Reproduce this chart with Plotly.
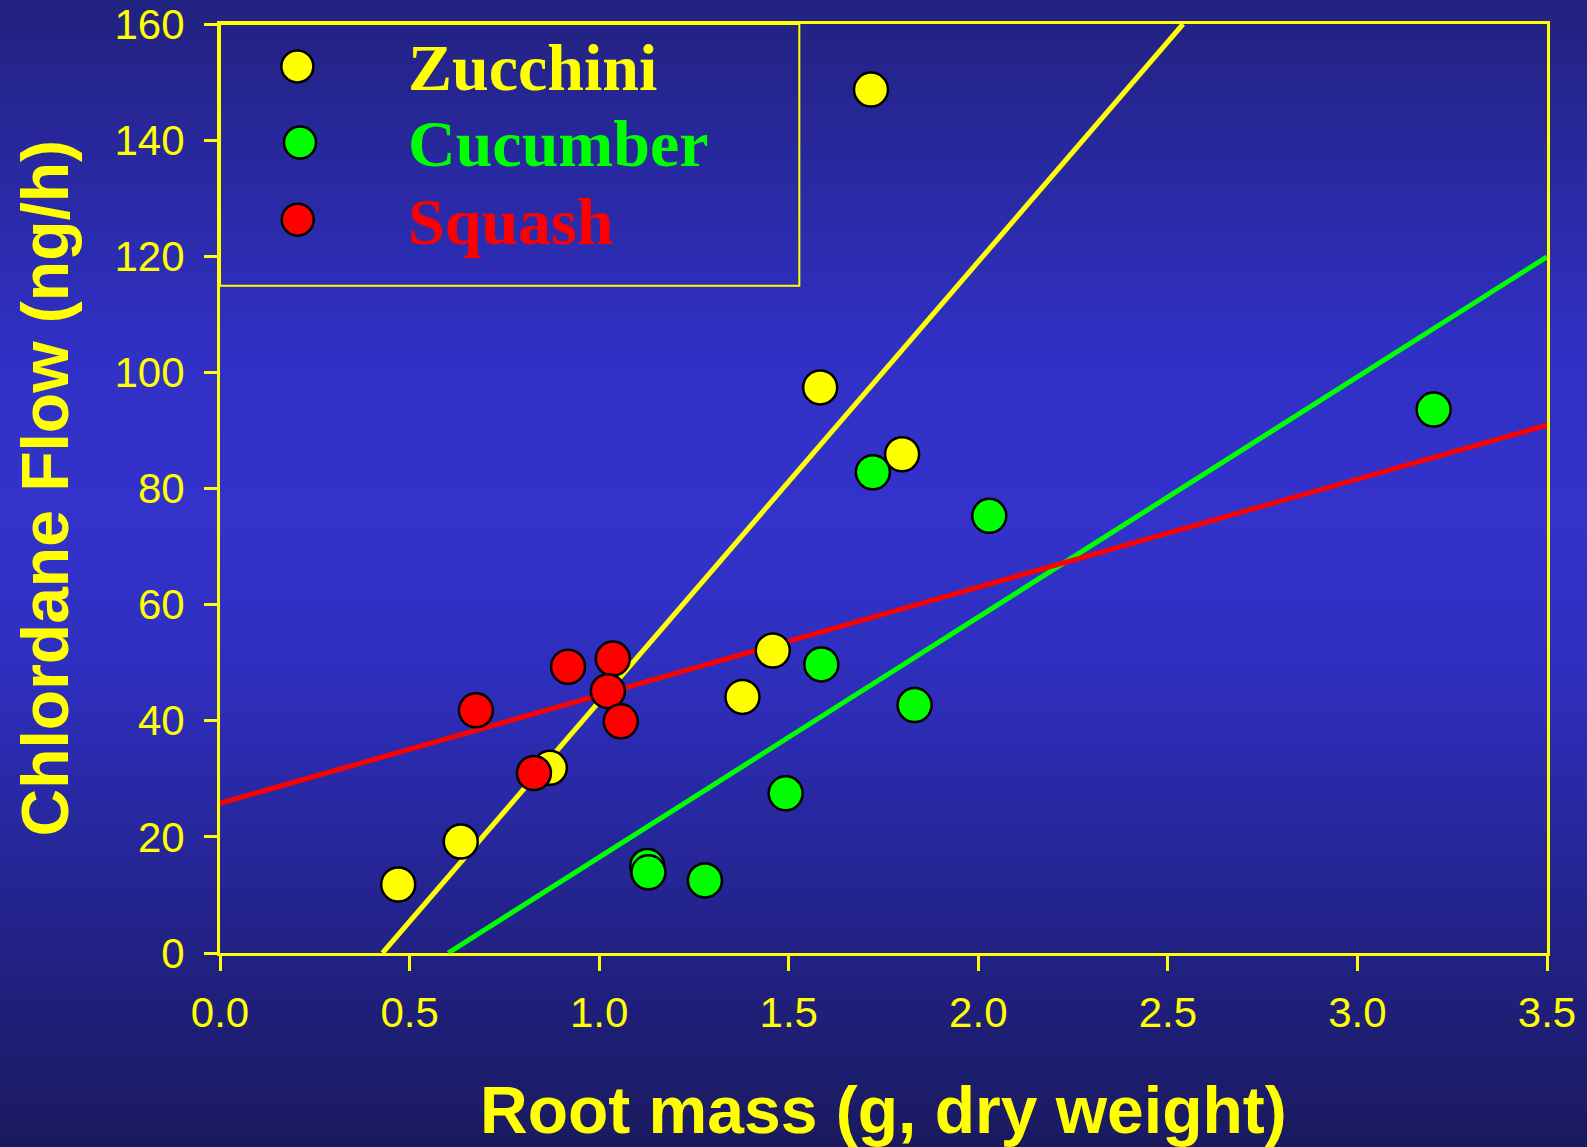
import base64
import struct
import zlib

import numpy as np
import plotly.graph_objects as go

# ---- data: root mass (g, dry weight) vs chlordane flow (ng/h) ----
zucchini_mass = [0.47, 0.635, 0.87, 1.378, 1.458, 1.583, 1.717, 1.799]
zucchini_flow = [11.8, 19.2, 31.9, 44.1, 52.1, 97.4, 148.7, 85.9]

cucumber_mass = [1.127, 1.130, 1.279, 1.492, 1.586, 1.722, 1.832, 2.029, 3.201]
cucumber_flow = [15.0, 13.9, 12.5, 27.5, 49.7, 82.8, 42.7, 75.3, 93.6]

squash_mass = [0.675, 0.828, 0.918, 1.036, 1.023, 1.057]
squash_flow = [41.8, 31.0, 49.3, 50.7, 45.1, 39.9]

series_names = ["Zucchini", "Cucumber", "Squash"]
series_colors = ["#FFFF00", "#00FF00", "#FF0000"]

x_ticks = [0.0, 0.5, 1.0, 1.5, 2.0, 2.5, 3.0, 3.5]
y_ticks = [0, 20, 40, 60, 80, 100, 120, 140, 160]
X_RANGE = [0, 3.5]
Y_RANGE = [0, 160]

# ---- layout geometry ----
W, H = 1587, 1147
M_L, M_R, M_T, M_B = 220, 40, 24, 194
AXIS_YELLOW = "#FFFF00"


def gradient_png(stops, rows=256):
    """Vertical colour gradient as a tiny PNG data URI."""
    pos = np.array([s[0] for s in stops])
    cols = np.array([s[1] for s in stops], dtype=float)
    raw = b""
    for i in range(rows):
        t = i / (rows - 1)
        rgb = [int(round(np.interp(t, pos, cols[:, k]))) for k in range(3)]
        raw += b"\x00" + bytes(rgb) * 4
    def chunk(tag, data):
        c = struct.pack(">I", len(data)) + tag + data
        return c + struct.pack(">I", zlib.crc32(tag + data) & 0xFFFFFFFF)
    png = b"\x89PNG\r\n\x1a\n"
    png += chunk(b"IHDR", struct.pack(">IIBBBBB", 4, rows, 8, 2, 0, 0, 0))
    png += chunk(b"IDAT", zlib.compress(raw, 9))
    png += chunk(b"IEND", b"")
    return "data:image/png;base64," + base64.b64encode(png).decode()


bg_stops = [
    (0.00, (34, 34, 128)),
    (0.30, (48, 48, 196)),
    (0.45, (51, 51, 204)),
    (0.60, (46, 46, 188)),
    (0.80, (35, 35, 140)),
    (1.00, (26, 26, 96)),
]

pw = W - M_L - M_R
ph = H - M_T - M_B

fig = go.Figure()

masses = [zucchini_mass, cucumber_mass, squash_mass]
flows = [zucchini_flow, cucumber_flow, squash_flow]

# least-squares fit lines, clipped to the plotting window
for xs, ys, col in zip(masses, flows, series_colors):
    slope, intercept = np.polyfit(xs, ys, 1)
    x_start = max(X_RANGE[0], (Y_RANGE[0] - intercept) / slope)
    x_end = min(X_RANGE[1], (Y_RANGE[1] - intercept) / slope)
    fx = np.array([x_start, x_end])
    fig.add_trace(go.Scatter(
        x=fx, y=slope * fx + intercept, mode="lines",
        line=dict(color=col, width=5), showlegend=False,
        hoverinfo="skip", cliponaxis=True,
    ))

# scatter points
for xs, ys, col, name in zip(masses, flows, series_colors, series_names):
    fig.add_trace(go.Scatter(
        x=xs, y=ys, mode="markers", name=name,
        marker=dict(size=34, color=col, line=dict(color="black", width=2.5)),
        showlegend=False, cliponaxis=False,
    ))

# hand-built key in the upper-left corner
key_marker_x = [0.204, 0.211, 0.205]
key_marker_y = [152.7, 139.6, 126.3]
for mx, my, col in zip(key_marker_x, key_marker_y, series_colors):
    fig.add_trace(go.Scatter(
        x=[mx], y=[my], mode="markers", showlegend=False, hoverinfo="skip",
        marker=dict(size=32, color=col, line=dict(color="black", width=2.5)),
    ))

annotations = []
key_text_y = [152.5, 139.5, 126.0]
for name, col, ty in zip(series_names, series_colors, key_text_y):
    annotations.append(dict(
        x=0.5, y=ty, xref="x", yref="y", text=f"<b>{name}</b>",
        showarrow=False, xanchor="left", yanchor="middle", xshift=-4,
        font=dict(family="Liberation Serif, Times New Roman, serif",
                  size=66, color=col),
    ))

# axis titles
annotations.append(dict(
    x=0.5, y=0, xref="paper", yref="paper",
    text="<b>Root mass (g, dry weight)</b>", showarrow=False,
    xanchor="center", yanchor="top", yshift=-118,
    font=dict(family="Liberation Sans, Arial, sans-serif", size=66,
              color=AXIS_YELLOW),
))
annotations.append(dict(
    x=0, y=0.5, xref="paper", yref="paper",
    text="<b>Chlordane Flow (ng/h)</b>", showarrow=False, textangle=-90,
    xanchor="center", yanchor="middle", xshift=-176,
    font=dict(family="Liberation Sans, Arial, sans-serif", size=66,
              color=AXIS_YELLOW),
))

shapes = [dict(
    type="rect", xref="x", yref="y", x0=0, x1=1.528, y0=114.9, y1=160,
    line=dict(color=AXIS_YELLOW, width=2), fillcolor="rgba(0,0,0,0)",
    layer="above",
)]

images = [dict(
    source=gradient_png(bg_stops), xref="paper", yref="paper",
    x=-M_L / pw, y=1 + M_T / ph, sizex=W / pw, sizey=H / ph,
    xanchor="left", yanchor="top", sizing="stretch", layer="below",
)]

tick_font = dict(family="Liberation Sans, Arial, sans-serif", size=42,
                 color=AXIS_YELLOW)

fig.update_layout(
    width=W, height=H,
    margin=dict(l=M_L, r=M_R, t=M_T, b=M_B, pad=0, autoexpand=False),
    paper_bgcolor="#22227a", plot_bgcolor="rgba(0,0,0,0)",
    images=images, shapes=shapes, annotations=annotations,
    showlegend=False,
    xaxis=dict(
        range=X_RANGE, tickvals=x_ticks, automargin=False,
        ticktext=[f"{v:.1f}" for v in x_ticks],
        showgrid=False, zeroline=False, showline=True, mirror=True,
        linecolor=AXIS_YELLOW, linewidth=3,
        ticks="outside", ticklen=15, tickwidth=2.5, tickcolor=AXIS_YELLOW,
        tickfont=tick_font, ticklabelstandoff=6,
    ),
    yaxis=dict(
        range=Y_RANGE, tickvals=y_ticks, automargin=False,
        showgrid=False, zeroline=False, showline=True, mirror=True,
        linecolor=AXIS_YELLOW, linewidth=3,
        ticks="outside", ticklen=13, tickwidth=2.5, tickcolor=AXIS_YELLOW,
        tickfont=tick_font, ticklabelstandoff=11,
    ),
)

fig.write_html("out.html")
